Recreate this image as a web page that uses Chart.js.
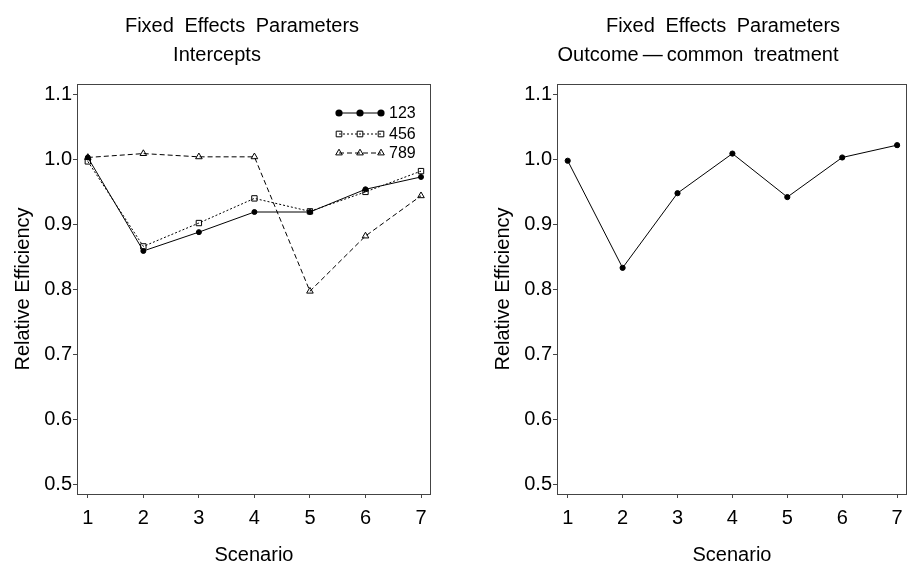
<!DOCTYPE html>
<html>
<head>
<meta charset="utf-8">
<script src="https://cdn.jsdelivr.net/npm/chart.js@4.4.1/dist/chart.umd.min.js"></script>
<style>
  html, body { margin: 0; padding: 0; background: #fff; overflow: hidden; }
  #page { position: relative; width: 912px; height: 568px; }
  .panel { position: absolute; top: 0; height: 568px; }
  .title {
    position: absolute;
    font-family: 'Liberation Sans', Arial, sans-serif;
    font-size: 20px;
    line-height: 1;
    color: #000;
    white-space: nowrap;
    word-spacing: 5px;
    transform: translateX(-50%);
  }
</style>
</head>
<body>
<div id="page">
  <div class="panel" style="left:0;width:456px">
    <canvas id="leftCanvas" width="456" height="568" style="width:456px;height:568px"></canvas>
  </div>
  <div class="panel" style="left:480px;width:432px">
    <canvas id="rightCanvas" width="432" height="568" style="width:432px;height:568px"></canvas>
  </div>
  <div class="title" style="left:242px;top:15px">Fixed Effects Parameters</div>
  <div class="title" style="left:217px;top:44px">Intercepts</div>
  <div class="title" style="left:723px;top:15px">Fixed Effects Parameters</div>
  <div class="title" style="left:698px;top:44px">Outcome&#8201;&mdash;&#8201;common treatment</div>
</div>

<script>
// data
const scenarios = [1, 2, 3, 4, 5, 6, 7];
const seriesNames = ['123', '456', '789'];
const eff123 = [1.003, 0.859, 0.888, 0.919, 0.919, 0.954, 0.973];
const eff456 = [0.997, 0.866, 0.902, 0.940, 0.920, 0.950, 0.982];
const eff789 = [1.003, 1.009, 1.004, 1.004, 0.797, 0.882, 0.944];
const effOutcome = [0.998, 0.833, 0.948, 1.009, 0.942, 1.003, 1.022];
const yTicks = [0.5, 0.6, 0.7, 0.8, 0.9, 1.0, 1.1];

Chart.defaults.font.family = "'Liberation Sans', Arial, sans-serif";
Chart.defaults.color = '#000';

// pairing x and y for the linear x axis
const toPoints = (values) => scenarios.map((s, i) => ({ x: s, y: values[i] }));

// drawing one marker for the legend
const drawMarker = (ctx, style, x, y, r) => {
  ctx.beginPath();
  if (style === 'circle') {
    ctx.arc(x, y, r, 0, Math.PI * 2);
    ctx.fillStyle = '#000';
    ctx.fill();
  } else if (style === 'rect') {
    ctx.rect(x - r, y - r, r * 2, r * 2);
    ctx.stroke();
  } else {
    ctx.moveTo(x, y - r);
    ctx.lineTo(x + r * 0.87, y + r * 0.5);
    ctx.lineTo(x - r * 0.87, y + r * 0.5);
    ctx.closePath();
    ctx.stroke();
  }
};

// box round the plot area
const framePlugin = {
  id: 'frame',
  afterDraw(chart) {
    const a = chart.chartArea;
    const ctx = chart.ctx;
    ctx.save();
    ctx.strokeStyle = '#444';
    ctx.lineWidth = 1;
    ctx.strokeRect(Math.round(a.left) + 0.5, Math.round(a.top) + 0.5,
      Math.round(a.right - a.left) - 1, Math.round(a.bottom - a.top));
    ctx.restore();
  }
};

// legend with three markers per entry, inside the plot
const markerLegend = {
  id: 'markerLegend',
  afterDraw(chart, args, opts) {
    if (!opts.show) return;
    const ctx = chart.ctx;
    const rows = [113, 134, 153];
    const xs = [339, 360, 381];
    const sizes = { circle: 3.6, rect: 2.8, triangle: 3.8 };
    ctx.save();
    chart.data.datasets.forEach((ds, i) => {
      const y = rows[i];
      ctx.strokeStyle = '#000';
      ctx.lineWidth = 1;
      ctx.setLineDash(ds.borderDash || []);
      ctx.beginPath();
      ctx.moveTo(xs[0], y);
      ctx.lineTo(xs[2], y);
      ctx.stroke();
      ctx.setLineDash([]);
      xs.forEach(x => drawMarker(ctx, ds.pointStyle, x, y, sizes[ds.pointStyle]));
      ctx.fillStyle = '#000';
      ctx.font = "16px 'Liberation Sans', Arial, sans-serif";
      ctx.textBaseline = 'middle';
      ctx.fillText(ds.label, 389, y + 1);
    });
    ctx.restore();
  }
};

const makeScales = () => ({
  x: {
    type: 'linear',
    min: 0.805,
    max: 7.18,
    afterBuildTicks: (scale) => { scale.ticks = scenarios.map(v => ({ value: v })); },
    afterFit: (scale) => { scale.height = 74; },
    grid: { display: true, drawOnChartArea: false, drawTicks: true, tickLength: 4, color: '#444' },
    border: { display: false },
    ticks: { font: { size: 20 }, padding: 8, callback: (v) => String(v) },
    title: { display: true, text: 'Scenario', font: { size: 20 }, padding: { top: 1, bottom: 1 } }
  },
  y: {
    min: 0.4846,
    max: 1.1162,
    afterBuildTicks: (scale) => { scale.ticks = yTicks.map(v => ({ value: v })); },
    afterFit: (scale) => { scale.width = 77; },
    grid: { display: true, drawOnChartArea: false, drawTicks: true, tickLength: 4, color: '#444' },
    border: { display: false },
    ticks: { font: { size: 20 }, padding: 1, callback: (v) => v.toFixed(1) },
    title: { display: true, text: 'Relative Efficiency', font: { size: 20 }, padding: { top: 11, bottom: 11 } }
  }
});

const makeOptions = (padRight, showLegend) => ({
  responsive: false,
  animation: false,
  events: [],
  layout: { padding: { top: 84, right: padRight, left: 0, bottom: 0 } },
  plugins: {
    legend: { display: false },
    tooltip: { enabled: false },
    markerLegend: { show: showLegend }
  },
  scales: makeScales()
});

// left panel: intercepts, three series
new Chart(document.getElementById('leftCanvas'), {
  type: 'line',
  data: {
    datasets: [
      {
        label: seriesNames[0], data: toPoints(eff123),
        borderColor: '#000', borderWidth: 1, pointStyle: 'circle', pointRadius: 2.5,
        pointBackgroundColor: '#000', pointBorderColor: '#000', pointBorderWidth: 1
      },
      {
        label: seriesNames[1], data: toPoints(eff456), borderDash: [2, 2],
        borderColor: '#000', borderWidth: 1, pointStyle: 'rect', pointRadius: 3.8,
        pointBackgroundColor: 'rgba(0,0,0,0)', pointBorderColor: '#000', pointBorderWidth: 1
      },
      {
        label: seriesNames[2], data: toPoints(eff789), borderDash: [5, 3],
        borderColor: '#000', borderWidth: 1, pointStyle: 'triangle', pointRadius: 3.8,
        pointBackgroundColor: 'rgba(0,0,0,0)', pointBorderColor: '#000', pointBorderWidth: 1
      }
    ]
  },
  options: makeOptions(25, true),
  plugins: [framePlugin, markerLegend]
});

// right panel: outcome, common treatment
new Chart(document.getElementById('rightCanvas'), {
  type: 'line',
  data: {
    datasets: [{
      label: 'Outcome-common treatment', data: toPoints(effOutcome),
      borderColor: '#000', borderWidth: 1, pointStyle: 'circle', pointRadius: 2.6,
      pointBackgroundColor: '#000', pointBorderColor: '#000', pointBorderWidth: 1
    }]
  },
  options: makeOptions(1, false),
  plugins: [framePlugin, markerLegend]
});
</script>
</body>
</html>
